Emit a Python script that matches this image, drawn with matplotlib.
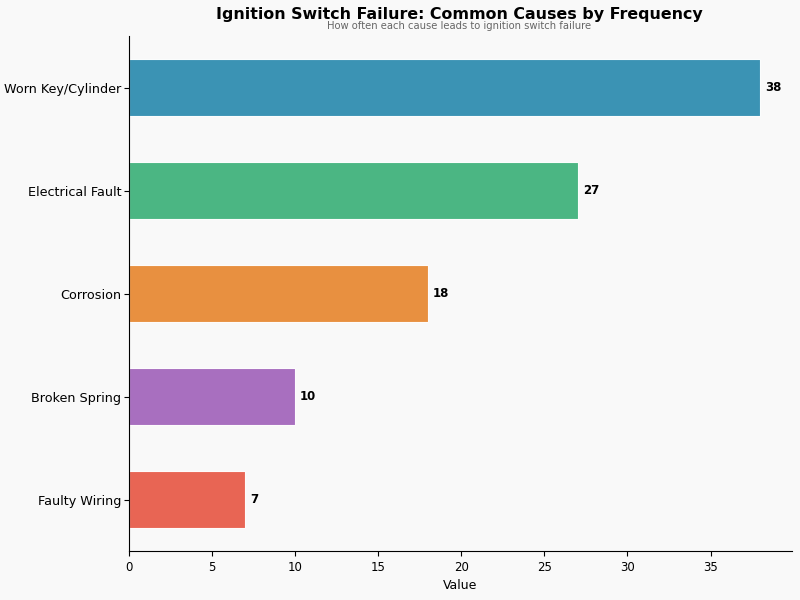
import matplotlib
matplotlib.use("Agg")
import matplotlib.pyplot as plt

categories = ["Faulty Wiring", "Broken Spring", "Corrosion", "Electrical Fault", "Worn Key/Cylinder"]
values = [7, 10, 18, 27, 38]
colors = ["#e8604f", "#a66bbd", "#e88d3a", "#45b47f", "#3590b2"]

bg = "#f9f9f9"
fig = plt.figure(figsize=(8, 6), dpi=100, facecolor=bg)
ax = fig.add_axes([0.16125, 0.0817, 0.82875, 0.858])
ax.set_facecolor(bg)

bars = ax.barh(range(len(categories)), values, height=0.55, color=colors,
               edgecolor="white", linewidth=0.8, alpha=0.97)
ax.set_yticks(range(len(categories)))
ax.set_yticklabels(categories, fontsize=9.2)
ax.set_ylim(-0.5, 4.5)
ax.set_xlim(0, max(values) * 1.05)
ax.set_xticks([0, 5, 10, 15, 20, 25, 30, 35])
ax.tick_params(axis="x", labelsize=8.5)
ax.tick_params(axis="y", pad=2)
ax.set_xlabel("Value", fontsize=9)

for i, v in enumerate(values):
    ax.text(v + 0.3, i, str(v), va="center", ha="left", fontsize=8.5, fontweight="bold")

for s in ["top", "right"]:
    ax.spines[s].set_visible(False)

fig.text(0.574, 0.975, "Ignition Switch Failure: Common Causes by Frequency",
         ha="center", va="center", fontsize=11.4, fontweight="bold")
fig.text(0.574, 0.957, "How often each cause leads to ignition switch failure",
         ha="center", va="center", fontsize=7.2, color="#666666")

fig.savefig("out.png", dpi=100, facecolor=bg)
